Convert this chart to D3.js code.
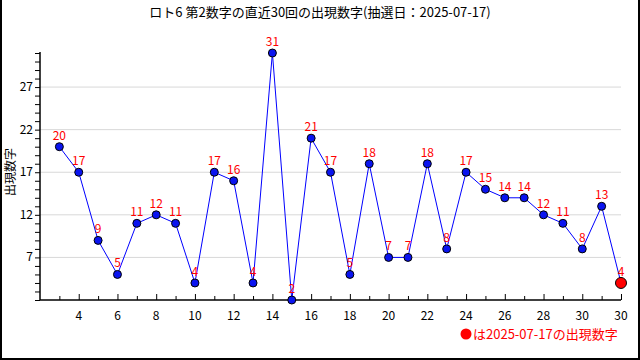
<!DOCTYPE html>
<html><head><meta charset="utf-8">
<script src="https://cdn.jsdelivr.net/npm/d3@7"></script>
<style>body{margin:0;background:#fff}svg{display:block}text{font-family:"Noto Sans CJK JP","DejaVu Sans",sans-serif}</style>
</head><body><svg id="c" width="640" height="360"></svg>
<script>
const draws = [3,4,5,6,7,8,9,10,11,12,13,14,15,16,17,18,19,20,21,22,23,24,25,26,27,28,29,30,31,32];
const values = [20,17,9,5,11,12,11,4,17,16,4,31,2,21,17,5,18,7,7,18,8,17,15,14,14,12,11,8,13,4];
const xTickPos = [4,6,8,10,12,14,16,18,20,22,24,26,28,30,32];
const xTickLabels = ["4","6","8","10","12","14","16","18","20","22","24","26","28","30","30"];
const yTicks = [7,12,17,22,27];
const title = "ロト6 第2数字の直近30回の出現数字(抽選日：2025-07-17)";
const legendText = "は2025-07-17の出現数字";

const svg = d3.select("#c");
const x = d3.scaleLinear().domain([2,32]).range([40,621]);
const y = d3.scaleLinear().domain([2,31]).range([300,53]);

// frame
svg.append("path").attr("d","M1,0V359H639V0").attr("fill","none").attr("stroke","#000").attr("stroke-width",2);

// title
svg.append("text").attr("x",320).attr("y",17).attr("text-anchor","middle").attr("font-size",13).attr("fill","#000").text(title);

// gridlines
svg.append("g").selectAll("line").data(yTicks).join("line")
  .attr("x1",40).attr("x2",621).attr("y1",d=>y(d)).attr("y2",d=>y(d))
  .attr("stroke","#d8d8d8").attr("stroke-width",1);

// y axis
const yAxisG = svg.append("g").attr("transform","translate(40,0)")
  .call(d3.axisLeft(y).tickValues(d3.range(2,32)).tickSize(5).tickFormat(""));
yAxisG.select(".domain").attr("stroke","#000").attr("stroke-width",1.5).attr("d","M0,52V300");
svg.append("g").selectAll("text").data(yTicks).join("text")
  .attr("x",33).attr("y",d=>y(d)+4).attr("text-anchor","end").attr("font-size",12).attr("fill","#000").text(d=>d);

// x axis
const xAxisG = svg.append("g").attr("transform","translate(0,300)")
  .call(d3.axisTop(x).tickValues(d3.range(3,33)).tickSize(5).tickFormat(""));
xAxisG.select(".domain").attr("stroke","#000").attr("stroke-width",1.5).attr("d","M40,0H621");
xAxisG.selectAll(".tick line").attr("y2",d=>d%2===0?-6:-4);
svg.append("g").selectAll("text").data(xTickPos).join("text")
  .attr("x",d=>x(d)).attr("y",320).attr("text-anchor","middle").attr("font-size",12).attr("fill","#000")
  .text((d,i)=>xTickLabels[i]);

// y label
svg.append("text").attr("transform","translate(15,172) rotate(-90)").attr("text-anchor","middle")
  .attr("font-size",12).attr("fill","#000").text("出現数字");

// line
const pts = draws.map((d,i)=>({d, v:values[i]}));
svg.append("path").datum(pts).attr("fill","none").attr("stroke","#0000ff").attr("stroke-width",1)
  .attr("d",d3.line().x(p=>x(p.d)).y(p=>y(p.v)));

// points
svg.append("g").selectAll("circle").data(pts).join("circle")
  .attr("cx",p=>x(p.d)).attr("cy",p=>y(p.v))
  .attr("r",(p,i)=>i===pts.length-1?5.5:4)
  .attr("fill",(p,i)=>i===pts.length-1?"#ff0000":"#0a14f0")
  .attr("stroke","#000").attr("stroke-width",1);

// labels
svg.append("g").selectAll("text").data(pts).join("text")
  .attr("x",p=>x(p.d)).attr("y",p=>y(p.v)-7).attr("text-anchor","middle")
  .attr("font-size",12).attr("fill","#ff0000").text(p=>p.v);

// legend
svg.append("circle").attr("cx",466).attr("cy",334).attr("r",5.5).attr("fill","#ff0000");
svg.append("text").attr("x",473).attr("y",339).attr("font-size",13).attr("fill","#ff0000").text(legendText);
</script></body></html>
